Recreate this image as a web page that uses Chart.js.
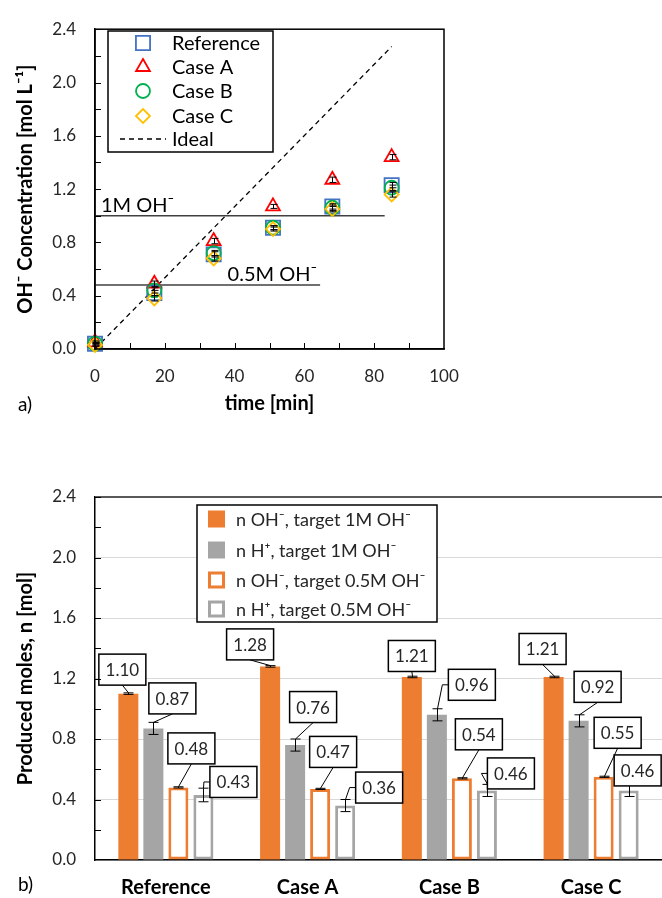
<!DOCTYPE html>
<html>
<head>
<meta charset="utf-8">
<script src="https://cdn.jsdelivr.net/npm/chart.js@4.4.1/dist/chart.umd.min.js"></script>
<style>
  html, body { margin: 0; padding: 0; background: #fff; overflow: hidden; }
  #wrapA { position: absolute; left: 0; top: 0; width: 662px; height: 440px; }
  #wrapB { position: absolute; left: 0; top: 440px; width: 662px; height: 458px; }
</style>
</head>
<body>
<div id="wrapA"><canvas id="concChart" width="662" height="440"></canvas></div>
<div id="wrapB"><canvas id="molesChart" width="662" height="458"></canvas></div>
<script>
// Data for chart a) - OH- concentration vs time
const times = [0, 17, 34, 51, 68, 85];
const concReference = [0.04, 0.42, 0.71, 0.91, 1.07, 1.23];
const concCaseA = [0.05, 0.49, 0.81, 1.07, 1.27, 1.44];
const concCaseB = [0.04, 0.44, 0.72, 0.91, 1.06, 1.21];
const concCaseC = [0.03, 0.38, 0.68, 0.90, 1.05, 1.16];
const concErr = [0.01, 0.02, 0.02, 0.015, 0.02, 0.02];
const idealTimes = [0, 85];
const idealConc = [0, 2.27];
const target1MTimes = [0, 83];
const target1MConc = [1.0, 1.0];
const target05Times = [0, 64.5];
const target05Conc = [0.48, 0.48];

// Data for chart b) - produced moles
const cases = ["Reference", "Case A", "Case B", "Case C"];
const ohTarget1M = [1.10, 1.28, 1.21, 1.21];
const hTarget1M = [0.87, 0.76, 0.96, 0.92];
const ohTarget05 = [0.48, 0.47, 0.54, 0.55];
const hTarget05 = [0.43, 0.36, 0.46, 0.46];
const ohTarget1MErr = [0.005, 0.005, 0.005, 0.005];
const hTarget1MErr = [0.04, 0.04, 0.04, 0.04];
const ohTarget05Err = [0.004, 0.004, 0.004, 0.004];
const hTarget05Err = [0.045, 0.04, 0.04, 0.04];

// label box offsets from bar top [dx, dy] in px, per dataset
const labelOffsets = [
    [[-6, -24], [-20, -22], [0, -21], [-11, -28]],
    [[19, -30], [18, -38], [35, -30], [19, -34]],
    [[13, -39], [13, -37], [17, -44], [14, -44]],
    [[30, -13], [34, -18], [24, -17], [9, -20]],
];

const FONT = "Lato, 'Open Sans', sans-serif";
const TEXT = "#262626";

const pts = (xs, ys) => xs.map((x, i) => ({ x: x, y: ys[i] }));

function marker(ctx, style, x, y, r) {
    ctx.beginPath();
    if (style === "rect") {
        const s = r * Math.SQRT1_2;
        ctx.rect(x - s, y - s, 2 * s, 2 * s);
    } else if (style === "triangle") {
        ctx.moveTo(x, y - r);
        ctx.lineTo(x + r * 0.866, y + r * 0.5);
        ctx.lineTo(x - r * 0.866, y + r * 0.5);
        ctx.closePath();
    } else if (style === "circle") {
        ctx.arc(x, y, r, 0, Math.PI * 2);
    } else {
        ctx.moveTo(x - r, y);
        ctx.lineTo(x, y - r);
        ctx.lineTo(x + r, y);
        ctx.lineTo(x, y + r);
        ctx.closePath();
    }
    ctx.stroke();
}

const seriesA = [
    { label: "Reference", data: concReference, color: "#4472C4", style: "rect", r: 10 },
    { label: "Case A", data: concCaseA, color: "#FF0000", style: "triangle", r: 8 },
    { label: "Case B", data: concCaseB, color: "#00B050", style: "circle", r: 7 },
    { label: "Case C", data: concCaseC, color: "#FFC000", style: "rectRot", r: 7 },
];

const concDecor = {
    id: "concDecor",
    afterDatasetsDraw(chart) {
        const { ctx, scales: { x, y } } = chart;
        ctx.save();
        ctx.strokeStyle = "#000";
        ctx.lineWidth = 1;
        seriesA.forEach((s) => {
            s.data.forEach((v, i) => {
                const px = Math.round(x.getPixelForValue(times[i])) + 0.5;
                const y1 = y.getPixelForValue(v - concErr[i]);
                const y2 = y.getPixelForValue(v + concErr[i]);
                ctx.beginPath();
                ctx.moveTo(px, y1); ctx.lineTo(px, y2);
                ctx.moveTo(px - 3, y1); ctx.lineTo(px + 4, y1);
                ctx.moveTo(px - 3, y2); ctx.lineTo(px + 4, y2);
                ctx.stroke();
            });
        });
        ctx.restore();
    },
    afterDraw(chart) {
        const { ctx, chartArea: a, scales: { x, y } } = chart;
        ctx.save();
        // frame
        ctx.strokeStyle = "#000";
        ctx.lineWidth = 1.5;
        ctx.strokeRect(a.left, a.top, a.right - a.left, a.bottom - a.top);
        // inner ticks
        ctx.lineWidth = 1;
        for (let v = 0.2; v < 2.41; v += 0.2) {
            const py = Math.round(y.getPixelForValue(v)) + 0.5;
            ctx.beginPath(); ctx.moveTo(a.left, py); ctx.lineTo(a.left + 6, py); ctx.stroke();
        }
        for (let t = 10; t < 100; t += 10) {
            const px = Math.round(x.getPixelForValue(t)) + 0.5;
            ctx.beginPath(); ctx.moveTo(px, a.bottom); ctx.lineTo(px, a.bottom - 6); ctx.stroke();
        }
        // target labels
        ctx.fillStyle = "#000";
        ctx.font = "20px " + FONT;
        ctx.textBaseline = "alphabetic";
        ctx.textAlign = "left";
        ctx.fillText("1M OH\u207B", a.left + 6, y.getPixelForValue(1.0) - 4);
        ctx.fillText("0.5M OH\u207B", x.getPixelForValue(38), y.getPixelForValue(0.48) - 4);
        // legend
        const lx = 108, ly = 31, lw = 165, lh = 121;
        ctx.fillStyle = "#fff";
        ctx.fillRect(lx, ly, lw, lh);
        ctx.strokeStyle = "#000";
        ctx.lineWidth = 1.5;
        ctx.strokeRect(lx, ly, lw, lh);
        const rows = [43, 67, 91, 116, 139];
        ctx.font = "20px " + FONT;
        ctx.textBaseline = "middle";
        seriesA.forEach((s, i) => {
            ctx.strokeStyle = s.color;
            ctx.lineWidth = 1.8;
            marker(ctx, s.style, 143, rows[i], s.r);
            ctx.fillStyle = "#000";
            ctx.fillText(s.label, 172, rows[i] + 1);
        });
        ctx.strokeStyle = "#000";
        ctx.lineWidth = 1.3;
        ctx.setLineDash([5, 4]);
        ctx.beginPath(); ctx.moveTo(120, rows[4]); ctx.lineTo(166, rows[4]); ctx.stroke();
        ctx.setLineDash([]);
        ctx.fillStyle = "#000";
        ctx.fillText("Ideal", 172, rows[4] + 1);
        // panel letter
        ctx.font = "19px " + FONT;
        ctx.fillText("a)", 18, 405);
        ctx.restore();
    },
};

const scatterSets = seriesA.map((s, i) => ({
    label: s.label,
    data: pts(times, s.data),
    showLine: false,
    pointStyle: s.style,
    pointRadius: s.r,
    pointBorderColor: s.color,
    pointBackgroundColor: "rgba(0,0,0,0)",
    pointBorderWidth: 1.8,
    clip: false,
    order: 4 - i,
}));

new Chart(document.getElementById("concChart"), {
    type: "scatter",
    data: {
        datasets: [
            ...scatterSets,
            {
                label: "Ideal",
                data: pts(idealTimes, idealConc),
                showLine: true,
                borderColor: "#000",
                borderWidth: 1.3,
                borderDash: [5, 4],
                pointRadius: 0,
                order: 6,
            },
            {
                label: "1M",
                data: pts(target1MTimes, target1MConc),
                showLine: true,
                borderColor: "#404040",
                borderWidth: 1.5,
                pointRadius: 0,
                order: 7,
            },
            {
                label: "0.5M",
                data: pts(target05Times, target05Conc),
                showLine: true,
                borderColor: "#404040",
                borderWidth: 1.5,
                pointRadius: 0,
                order: 7,
            },
        ],
    },
    options: {
        responsive: false,
        animation: false,
        layout: { padding: { left: 0, top: 22, right: 218, bottom: 0 } },
        plugins: { legend: { display: false }, tooltip: { enabled: false } },
        scales: {
            x: {
                type: "linear",
                min: 0,
                max: 100,
                ticks: { stepSize: 20, color: TEXT, font: { family: FONT, size: 17 }, padding: 17 },
                grid: { display: false, drawTicks: false },
                border: { color: "#000", width: 1.5 },
                title: { display: true, text: "time [min]", color: "#000", font: { family: FONT, size: 20, weight: "bold" }, padding: { bottom: 24 } },
                afterFit: (s) => { s.height = 91; },
            },
            y: {
                min: 0,
                max: 2.4,
                ticks: { stepSize: 0.4, color: TEXT, font: { family: FONT, size: 17 }, padding: 19, callback: (v) => v.toFixed(1) },
                grid: { display: false, drawTicks: false },
                border: { color: "#000", width: 1.5 },
                title: { display: true, text: "OH\u207B Concentration [mol L\u207B\u00B9]", color: "#000", font: { family: FONT, size: 20, weight: "bold" }, padding: { top: 14 } },
                afterFit: (s) => { s.width = 95; },
            },
        },
    },
    plugins: [concDecor],
});

// Chart b) - produced moles
const barErrs = [ohTarget1MErr, hTarget1MErr, ohTarget05Err, hTarget05Err];
const barVals = [ohTarget1M, hTarget1M, ohTarget05, hTarget05];

const molesDecor = {
    id: "molesDecor",
    afterDatasetsDraw(chart) {
        const { ctx, scales: { y } } = chart;
        ctx.save();
        // error bars
        ctx.strokeStyle = "#000";
        ctx.lineWidth = 1;
        const tops = [];
        barVals.forEach((vals, d) => {
            const meta = chart.getDatasetMeta(d);
            tops.push([]);
            vals.forEach((v, i) => {
                const px = Math.round(meta.data[i].x) + 0.5;
                const y1 = y.getPixelForValue(v - barErrs[d][i]);
                const y2 = y.getPixelForValue(v + barErrs[d][i]);
                tops[d].push([px, y2]);
                ctx.beginPath();
                ctx.moveTo(px, y1); ctx.lineTo(px, y2);
                ctx.moveTo(px - 5, y1); ctx.lineTo(px + 5, y1);
                ctx.moveTo(px - 5, y2); ctx.lineTo(px + 5, y2);
                ctx.stroke();
            });
        });
        // value labels with leader lines
        const bw = 47, bh = 31;
        ctx.font = "17px " + FONT;
        ctx.textAlign = "center";
        ctx.textBaseline = "middle";
        barVals.forEach((vals, d) => {
            const meta = chart.getDatasetMeta(d);
            vals.forEach((v, i) => {
                const bx = meta.data[i].x + labelOffsets[d][i][0];
                const by = meta.data[i].y + labelOffsets[d][i][1];
                const [tx, ty] = tops[d][i];
                const l = bx - bw / 2, t = by - bh / 2, b = by + bh / 2;
                ctx.strokeStyle = "#000";
                ctx.lineWidth = 1;
                ctx.beginPath();
                if (tx >= l + 4) {
                    // from the bottom centre of the box
                    if (ty - b > 3) { ctx.moveTo(bx, b); ctx.lineTo(tx, ty); }
                } else {
                    // from the left edge with an elbow
                    ctx.moveTo(l, by); ctx.lineTo(l - 6, by); ctx.lineTo(tx, ty);
                }
                ctx.stroke();
                ctx.fillStyle = "#fff";
                ctx.fillRect(l, t, bw, bh);
                ctx.strokeStyle = "#000";
                ctx.lineWidth = 1.5;
                ctx.strokeRect(l, t, bw, bh);
                ctx.fillStyle = TEXT;
                ctx.fillText(v.toFixed(2), bx, by + 1);
            });
        });
        ctx.restore();
    },
    afterDraw(chart) {
        const { ctx, chartArea: a, scales: { y } } = chart;
        ctx.save();
        // top border
        ctx.strokeStyle = "#595959";
        ctx.lineWidth = 2;
        ctx.beginPath(); ctx.moveTo(a.left, a.top); ctx.lineTo(a.right, a.top); ctx.stroke();
        // inner ticks
        ctx.strokeStyle = "#000";
        ctx.lineWidth = 1;
        for (let v = 0.2; v < 2.41; v += 0.2) {
            const py = Math.round(y.getPixelForValue(v)) + 0.5;
            ctx.beginPath(); ctx.moveTo(a.left, py); ctx.lineTo(a.left + 6, py); ctx.stroke();
        }
        // legend
        const lx = 197, ly = 65, lw = 240, lh = 117;
        ctx.fillStyle = "#fff";
        ctx.fillRect(lx, ly, lw, lh);
        ctx.strokeStyle = "#000";
        ctx.lineWidth = 1.5;
        ctx.strokeRect(lx, ly, lw, lh);
        const rows = [79, 110, 140, 169];
        const names = [
            "n OH\u207B, target 1M OH\u207B",
            "n H\u207A, target 1M OH\u207B",
            "n OH\u207B, target 0.5M OH\u207B",
            "n H\u207A, target 0.5M OH\u207B",
        ];
        const ds = chart.data.datasets;
        ctx.font = "18px " + FONT;
        ctx.textBaseline = "middle";
        ctx.textAlign = "left";
        names.forEach((n, i) => {
            const d = ds[i];
            ctx.fillStyle = d.borderWidth ? d.borderColor : d.backgroundColor;
            ctx.fillRect(208, rows[i] - 8.5, 17, 17);
            if (d.borderWidth) {
                ctx.fillStyle = "#fff";
                ctx.fillRect(211, rows[i] - 5.5, 11, 11);
            }
            ctx.fillStyle = TEXT;
            ctx.fillText(n, 236, rows[i] + 1);
        });
        // panel letter
        ctx.fillStyle = "#000";
        ctx.font = "19px " + FONT;
        ctx.fillText("b)", 18, 445);
        ctx.restore();
    },
};

new Chart(document.getElementById("molesChart"), {
    type: "bar",
    data: {
        labels: cases,
        datasets: [
            { label: "n OH-, target 1M OH-", data: ohTarget1M, backgroundColor: "#ED7D31", borderWidth: 0 },
            { label: "n H+, target 1M OH-", data: hTarget1M, backgroundColor: "#A5A5A5", borderWidth: 0 },
            { label: "n OH-, target 0.5M OH-", data: ohTarget05, backgroundColor: "#FFFFFF", borderColor: "#ED7D31", borderWidth: 3, borderSkipped: false },
            { label: "n H+, target 0.5M OH-", data: hTarget05, backgroundColor: "#FFFFFF", borderColor: "#A5A5A5", borderWidth: 3, borderSkipped: false },
        ],
    },
    options: {
        responsive: false,
        animation: false,
        categoryPercentage: 0.706,
        barPercentage: 0.8,
        layout: { padding: { left: 0, top: 57, right: 0, bottom: 0 } },
        plugins: { legend: { display: false }, tooltip: { enabled: false } },
        scales: {
            x: {
                ticks: { color: "#000", font: { family: FONT, size: 20, weight: "bold" }, padding: 16 },
                grid: { display: false, drawTicks: false },
                border: { color: "#000", width: 1.5 },
                afterFit: (s) => { s.height = 38; },
            },
            y: {
                min: 0,
                max: 2.4,
                ticks: { stepSize: 0.4, color: TEXT, font: { family: FONT, size: 17 }, padding: 19, callback: (v) => v.toFixed(1) },
                grid: { color: "#D9D9D9", lineWidth: 1, drawTicks: false },
                border: { color: "#000", width: 1.5 },
                title: { display: true, text: "Produced moles, n [mol]", color: "#000", font: { family: FONT, size: 20, weight: "bold" }, padding: { top: 14 } },
                afterFit: (s) => { s.width = 95; },
            },
        },
    },
    plugins: [molesDecor],
});
</script>
</body>
</html>
